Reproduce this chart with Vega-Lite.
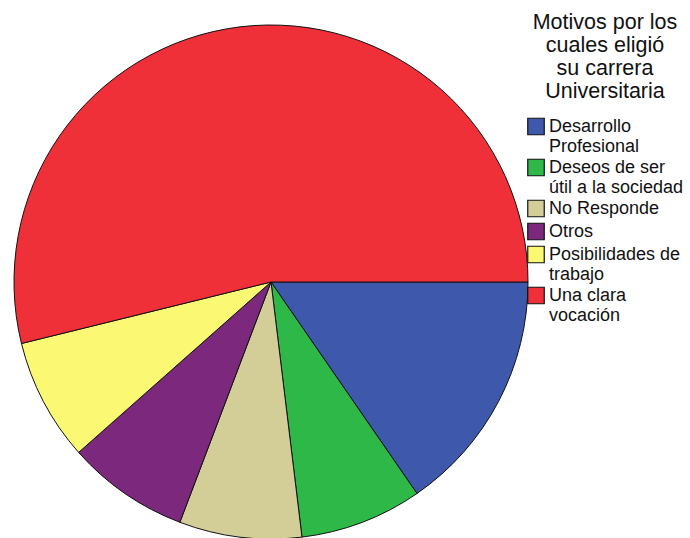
{
  "$schema": "https://vega.github.io/schema/vega-lite/v6.json",
  "width": 542,
  "height": 564,
  "autosize": {"type": "none"},
  "padding": {"left": 0, "top": 0, "right": 148, "bottom": 0},
  "background": "white",
  "config": {"view": {"stroke": null}, "font": "Liberation Sans"},
  "data": {
    "values": [
      {"motivo": "Desarrollo Profesional", "n": 8},
      {"motivo": "Deseos de ser útil a la sociedad", "n": 4},
      {"motivo": "No Responde", "n": 4},
      {"motivo": "Otros", "n": 4},
      {"motivo": "Posibilidades de trabajo", "n": 4},
      {"motivo": "Una clara vocación", "n": 28}
    ]
  },
  "mark": {"type": "arc", "radius": 257, "stroke": "#111111", "strokeWidth": 1},
  "encoding": {
    "theta": {"field": "n", "type": "quantitative", "stack": true, "scale": {"range": [1.5707963, 7.8539816]}},
    "order": {"field": "motivo", "type": "nominal", "sort": "ascending"},
    "color": {
      "field": "motivo",
      "type": "nominal",
      "sort": ["Desarrollo Profesional", "Deseos de ser útil a la sociedad", "No Responde", "Otros", "Posibilidades de trabajo", "Una clara vocación"],
      "scale": {
        "domain": ["Desarrollo Profesional", "Deseos de ser útil a la sociedad", "No Responde", "Otros", "Posibilidades de trabajo", "Una clara vocación"],
        "range": ["#3E58AC", "#2EB848", "#D3CE97", "#7B287D", "#FBF873", "#EF3038"]
      },
      "legend": {
        "orient": "none",
        "legendX": 527,
        "legendY": 12,
        "padding": 0,
        "title": ["Motivos por los", "cuales eligió", "su carrera", "Universitaria"],
        "titleFontSize": 21.5,
        "titleFontWeight": "normal",
        "titleColor": "#111111",
        "titleLineHeight": 23,
        "titleAlign": "center",
        "titleAnchor": "middle",
        "titlePadding": 15,
        "titleLimit": 300,
        "symbolType": "square",
        "symbolSize": 272,
        "symbolStrokeColor": "#111111",
        "symbolStrokeWidth": 1.2,
        "symbolOpacity": 1,
        "labelFontSize": 18,
        "labelColor": "#111111",
        "labelLineHeight": 16.5,
        "labelOffset": 4,
        "labelLimit": 300,
        "rowPadding": 1,
        "labelExpr": "datum.label == 'Desarrollo Profesional' ? ['Desarrollo', 'Profesional'] : datum.label == 'Deseos de ser útil a la sociedad' ? ['Deseos de ser', 'útil a la sociedad'] : datum.label == 'Posibilidades de trabajo' ? ['Posibilidades de', 'trabajo'] : datum.label == 'Una clara vocación' ? ['Una clara', 'vocación'] : datum.label"
      }
    }
  }
}
